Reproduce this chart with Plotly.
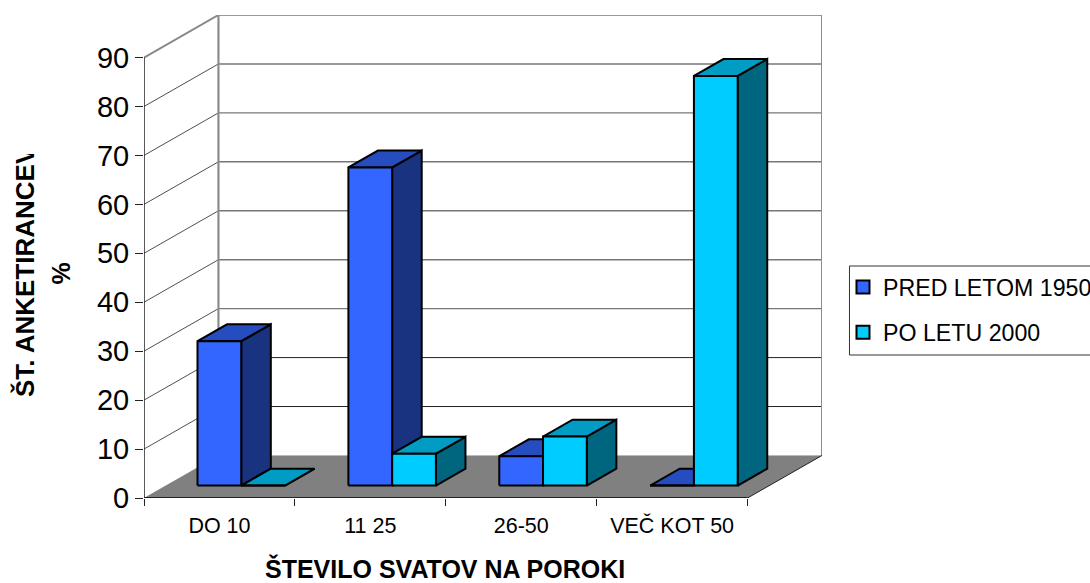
import plotly.graph_objects as go

categories = ["DO 10", "11 25", "26-50", "VEČ KOT 50"]
series_names = ["PRED LETOM 1950", "PO LETU 2000"]
pred_1950 = [29.5, 65, 6, 0]
po_2000 = [0, 6.5, 10, 83.7]
y_ticks = [0, 10, 20, 30, 40, 50, 60, 70, 80, 90]

FONT = "Liberation Sans, Arial, sans-serif"
W, H = 1090, 583
L, R, T, B = 143.5, 822.0, 15.0, 498.0
CAT_PX = 151.0
UNIT_PX = 4.894
DEPTH_X = (R - L) / CAT_PX - 4            # wall offset, category units
DEPTH_Y = (B - T) / UNIT_PX - 90          # wall offset, value units
BAR_W = 0.29
D0, D1 = 0.293, 0.69

FRONT = ["#3366FF", "#00CCFF"]
TOP = ["#264DBF", "#009CC4"]
SIDE = ["#1A3380", "#006680"]
LINE = "#000000"


def px(x):
    return (x - L) / (R - L)


def py(y):
    return (B - y) / (B - T)


def proj(c, v, d):
    return c + d * DEPTH_X, v + d * DEPTH_Y


fig = go.Figure()


def poly(points, fill=None, color=LINE, width=1.0):
    xs = [p[0] for p in points]
    ys = [p[1] for p in points]
    kw = dict(fill="toself", fillcolor=fill) if fill else {}
    if fill:
        xs.append(xs[0])
        ys.append(ys[0])
    fig.add_trace(go.Scatter(
        x=xs, y=ys, mode="lines", showlegend=False, hoverinfo="skip",
        line=dict(color=color, width=width, simplify=False), **kw))


# floor
poly([proj(0, 0, 0), proj(4, 0, 0), proj(4, 0, 1), proj(0, 0, 1)],
     fill="#808080", width=0.1, color="#808080")

# wall grid
for v in y_ticks[1:]:
    heavy = v >= 30
    poly([proj(0, v, 0), proj(0, v, 1)],
         color="#888888" if v == 90 else "#222222",
         width=2 if v == 90 else 0.8)
    poly([proj(0, v, 1), proj(4, v, 1)],
         color="#777777" if heavy else "#222222",
         width=1.4 if heavy else 1)

# wall edges
poly([proj(0, 0, 1), proj(0, 90, 1)], color="#8C8C8C", width=2.2)
poly([proj(4, 0, 1), proj(4, 90, 1)], color="#8C8C8C", width=2)

# axes lines
poly([(0, 0), (0, 90)], color="#222222", width=1.5)
poly([(0, 0), (4, 0)], color="#222222", width=2)
poly([proj(4, 0, 0), proj(4, 0, 1)], color="#222222", width=1)


def bar(c, s, value):
    left = c + 0.5 + (s - 1) * BAR_W
    right = left + BAR_W
    poly([proj(right, 0, D0), proj(right, 0, D1), proj(right, value, D1), proj(right, value, D0)],
         fill=SIDE[s], width=2)
    poly([proj(left, value, D0), proj(right, value, D0), proj(right, value, D1), proj(left, value, D1)],
         fill=TOP[s], width=2)
    poly([proj(left, 0, D0), proj(right, 0, D0), proj(right, value, D0), proj(left, value, D0)],
         fill=FRONT[s], width=2)


for c in range(len(categories)):
    bar(c, 0, pred_1950[c])
    bar(c, 1, po_2000[c])

# legend entries
for s, name in enumerate(series_names):
    fig.add_trace(go.Scatter(
        x=[None], y=[None], mode="markers", name=name, legendgroup=name,
        marker=dict(symbol="square", size=13, color=FRONT[s], line=dict(color=LINE, width=2))))

fig.update_layout(
    width=W, height=H,
    margin=dict(l=L, r=W - R, t=T, b=H - B, autoexpand=False),
    paper_bgcolor="white", plot_bgcolor="rgba(0,0,0,0)",
    font=dict(family=FONT, color="#000000"),
    showlegend=True,
    legend=dict(
        x=px(843), y=py(265.5), xanchor="left", yanchor="top",
        traceorder="grouped", tracegroupgap=12,
        font=dict(size=23.2, family=FONT), bgcolor="rgba(0,0,0,0)",
        itemwidth=30, itemclick=False, itemdoubleclick=False),
    xaxis=dict(
        range=[0, 4 + DEPTH_X], showgrid=False, zeroline=False, showline=False,
        tickvals=[c + 0.5 for c in range(len(categories))], ticktext=categories,
        ticks="", tickfont=dict(size=21.5, family=FONT), ticklabelstandoff=12,
        minor=dict(tickvals=list(range(len(categories) + 1)), ticks="outside",
                   ticklen=7, tickwidth=1, tickcolor="#222222"),
        fixedrange=True),
    yaxis=dict(
        range=[0, 90 + DEPTH_Y], showgrid=False, zeroline=False, showline=False,
        tickvals=y_ticks, ticks="outside", ticklen=8, tickwidth=1, tickcolor="#222222",
        tickfont=dict(size=29, family=FONT), fixedrange=True),
    shapes=[dict(type="rect", xref="paper", yref="paper",
                 x0=px(849.5), x1=px(1095), y0=py(355), y1=py(266),
                 line=dict(color="#333333", width=1), fillcolor="rgba(0,0,0,0)")],
    annotations=[
        dict(text="ŠTEVILO SVATOV NA POROKI", xref="paper", yref="paper",
             x=px(445), y=py(568), xanchor="center", yanchor="middle", showarrow=False,
             font=dict(size=25, family=FONT, weight="bold")),
        dict(text="ŠT. ANKETIRANCEV", xref="paper", yref="paper",
             x=px(24), y=py(275.5), xanchor="center", yanchor="middle", showarrow=False,
             textangle=-90, width=243, align="left",
             font=dict(size=26, family=FONT, weight="bold")),
        dict(text="%", xref="paper", yref="paper",
             x=px(60), y=py(274), xanchor="center", yanchor="middle", showarrow=False,
             textangle=-90,
             font=dict(size=25, family=FONT, weight="bold")),
    ],
)

fig.write_html("out.html", config=dict(displayModeBar=False),
               post_script="document.body.style.margin='0';document.body.style.overflow='hidden';")
